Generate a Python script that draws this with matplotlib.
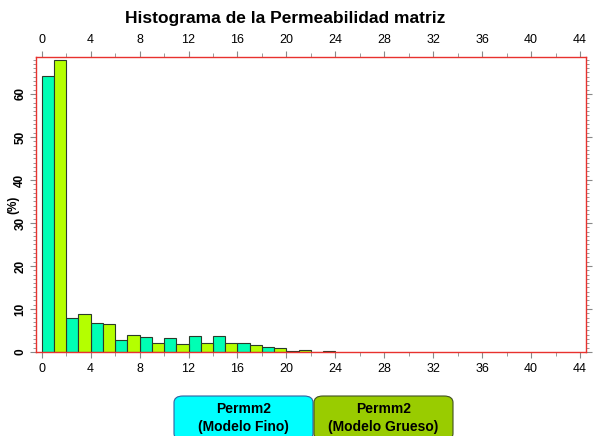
import matplotlib
matplotlib.use("Agg")
import matplotlib.pyplot as plt
import numpy as np
from matplotlib.patches import FancyBboxPatch
from matplotlib.ticker import MultipleLocator

plt.rcParams['font.family'] = ['Liberation Sans', 'DejaVu Sans']

# Bin starts (width 2); each bin holds one bar per model
bin_starts = [0, 2, 4, 6, 8, 10, 12, 14, 16, 18, 20, 22]
fino = [64.2, 7.8, 6.7, 2.8, 3.5, 3.3, 3.7, 3.7, 2.0, 1.2, 0.15, 0.0]
grueso = [67.9, 8.8, 6.5, 4.0, 2.2, 1.9, 2.1, 2.1, 1.6, 1.0, 0.45, 0.25]

title = "Histograma de la Permeabilidad matriz"
ylabel = "(%)"
legend_labels = ["Permm2\n(Modelo Fino)", "Permm2\n(Modelo Grueso)"]

c_fino = "#00FFB4"
c_grueso = "#B4FF00"
spine_red = "#E8322E"
tick_grey = "#888888"

fig = plt.figure(figsize=(5.95, 4.36), dpi=100)
ax = fig.add_axes([36 / 595, 1 - 352 / 436, 550 / 595, 295 / 436])

xs = np.array(bin_starts, dtype=float)
ax.bar(xs, fino, width=1.0, align="edge", color=c_fino,
       edgecolor="#2a3a2a", linewidth=0.8, zorder=2)
ax.bar(xs + 1, grueso, width=1.0, align="edge", color=c_grueso,
       edgecolor="#2a3a2a", linewidth=0.8, zorder=2)

ax.set_xlim(-0.47, 44.49)
ax.set_ylim(0, 68.6)

for s in ax.spines.values():
    s.set_color(spine_red)
    s.set_linewidth(1.0)
    s.set_zorder(3)

ax.xaxis.set_major_locator(MultipleLocator(4))
ax.xaxis.set_minor_locator(MultipleLocator(2))
ax.yaxis.set_major_locator(MultipleLocator(10))
ax.yaxis.set_minor_locator(MultipleLocator(1))

ax.tick_params(axis="x", which="both", direction="out", top=True, bottom=True,
               labeltop=True, labelbottom=True, color=tick_grey, labelsize=9,
               pad=4)
ax.tick_params(axis="x", which="major", length=4)
ax.tick_params(axis="x", which="minor", length=3)
ax.tick_params(axis="y", which="both", direction="out", left=True, right=True,
               labelleft=True, labelright=True, color=tick_grey, labelsize=8.5,
               pad=3)
ax.tick_params(axis="y", which="major", length=4)
ax.tick_params(axis="y", which="minor", length=2, width=0.6)

for lab in ax.get_yticklabels():
    lab.set_rotation(90)
    lab.set_va("center")
    lab.set_fontweight("bold")

ax.set_ylabel(ylabel, fontsize=8.5, fontweight="bold")
ax.yaxis.set_label_coords(-17 / 550, 0.5)

fig.text(0.48, 1 - 19 / 436, title, ha="center", va="center",
         fontsize=12.5, fontweight="bold")

# Legend boxes below the plot
legend_colors = ["#00FFFF", "#99CC00"]
legend_edges = ["#3060A0", "#405020"]
box_x = [174 / 595, 314 / 595]
box_w = 139 / 595
box_y = 1 - 440 / 436
box_h = 44 / 436
for lab, fc, ec, bx in zip(legend_labels, legend_colors, legend_edges, box_x):
    p = FancyBboxPatch((bx, box_y), box_w, box_h,
                       boxstyle="round,pad=0,rounding_size=0.015",
                       transform=fig.transFigure, facecolor=fc, edgecolor=ec,
                       linewidth=0.8, clip_on=False)
    fig.patches.append(p)
    fig.text(bx + box_w / 2, 1 - 418 / 436, lab, ha="center", va="center",
             fontsize=10, fontweight="bold", linespacing=1.3)

fig.savefig("out.png", dpi=100)
